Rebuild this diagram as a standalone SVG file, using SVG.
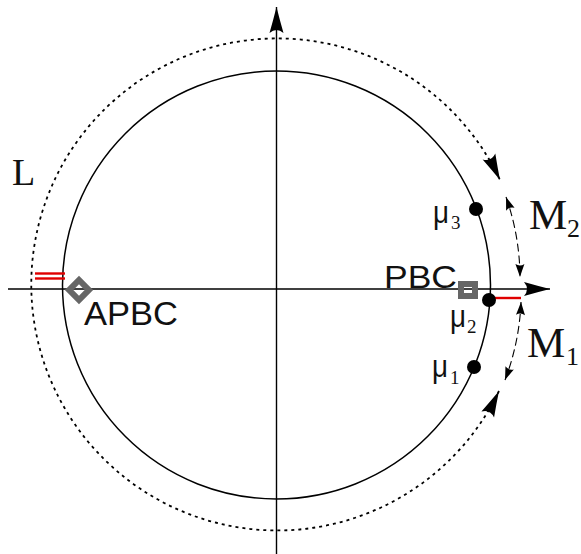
<svg xmlns="http://www.w3.org/2000/svg" width="581" height="554" viewBox="0 0 581 554">
<style>
.ax{stroke:#000;stroke-width:1.4;fill:none}
.circ{stroke:#000;stroke-width:1.5;fill:none}
.dot{stroke:#000;stroke-width:1.8;fill:none;stroke-dasharray:3 4}
.dash{stroke:#000;stroke-width:1.1;fill:none;stroke-dasharray:8 4}
.red{stroke:#e00000;stroke-width:2.4}
.sans{font-family:"Liberation Sans",Arial,sans-serif;fill:#111}
.serif{font-family:"Liberation Serif","Times New Roman",serif;fill:#111}
.pt{fill:#000}
.mark{fill:none;stroke:#666;stroke-width:6}
</style>
<defs>
<marker id="big" markerUnits="userSpaceOnUse" viewBox="-28 -9 30 18" refX="0" refY="0" markerWidth="30" markerHeight="18" orient="auto-start-reverse">
<path d="M0,0 Q-12,-3 -26,-7 Q-20,0 -26,7 Q-12,3 0,0 Z" fill="#000"/>
</marker>
<marker id="small" markerUnits="userSpaceOnUse" viewBox="-15 -6 16 12" refX="0" refY="0" markerWidth="16" markerHeight="12" orient="auto-start-reverse">
<path d="M0,0 Q-6,-2 -13,-4.5 Q-10,0 -13,4.5 Q-6,2 0,0 Z" fill="#000"/>
</marker>
</defs>

<g id="connectors">
<line class="ax" x1="8" y1="289" x2="550" y2="289" marker-end="url(#big)"/>
<line class="ax" x1="276.5" y1="554" x2="276.5" y2="7" marker-end="url(#big)"/>
<path id="L-arc" class="dot" d="M499,391 A246,246 0 1 1 500,180" marker-start="url(#big)" marker-end="url(#big)"/>
<path id="M2-arc" class="dash" d="M506,197 A245,245 0 0 1 520,277" marker-start="url(#small)" marker-end="url(#small)"/>
<path id="M1-arc" class="dash" d="M521,302 A245,245 0 0 1 505,380" marker-start="url(#small)" marker-end="url(#small)"/>
</g>

<g id="circle">
<circle class="circ" cx="276.5" cy="285" r="214"/>
</g>

<g id="red-marks">
<line class="red" x1="35" y1="273.5" x2="65" y2="273.5"/>
<line class="red" x1="35" y1="278.5" x2="65" y2="278.5"/>
<line class="red" x1="491" y1="298" x2="521" y2="298"/>
</g>

<g id="APBC">
<rect class="mark" x="72" y="283" width="14" height="14" transform="rotate(45 79 290)"/>
<text class="sans" x="84" y="325" font-size="33" textLength="94" lengthAdjust="spacingAndGlyphs">APBC</text>
</g>

<g id="PBC">
<rect class="mark" x="461" y="284" width="14" height="12"/>
<text class="sans" x="384" y="288" font-size="32" textLength="73" lengthAdjust="spacingAndGlyphs">PBC</text>
</g>

<g id="mu3">
<circle class="pt" cx="476" cy="209" r="7"/>
<text class="sans" x="433" y="223" font-size="32" textLength="16" lengthAdjust="spacingAndGlyphs">μ</text>
<text class="serif" x="451" y="229" font-size="19">3</text>
</g>
<g id="mu2">
<circle class="pt" cx="489" cy="300" r="7"/>
<text class="sans" x="450" y="327" font-size="32" textLength="16" lengthAdjust="spacingAndGlyphs">μ</text>
<text class="serif" x="467" y="333" font-size="19">2</text>
</g>
<g id="mu1">
<circle class="pt" cx="474" cy="367" r="7"/>
<text class="sans" x="432" y="377" font-size="32" textLength="16" lengthAdjust="spacingAndGlyphs">μ</text>
<text class="serif" x="450" y="384" font-size="19">1</text>
</g>

<g id="label-M2">
<text class="serif" x="529" y="229" font-size="43">M</text>
<text class="serif" x="567" y="237" font-size="26">2</text>
</g>
<g id="label-M1">
<text class="serif" x="527" y="357" font-size="43">M</text>
<text class="serif" x="566" y="365" font-size="26">1</text>
</g>
<g id="label-L">
<text class="serif" x="12" y="185" font-size="38">L</text>
</g>
</svg>
